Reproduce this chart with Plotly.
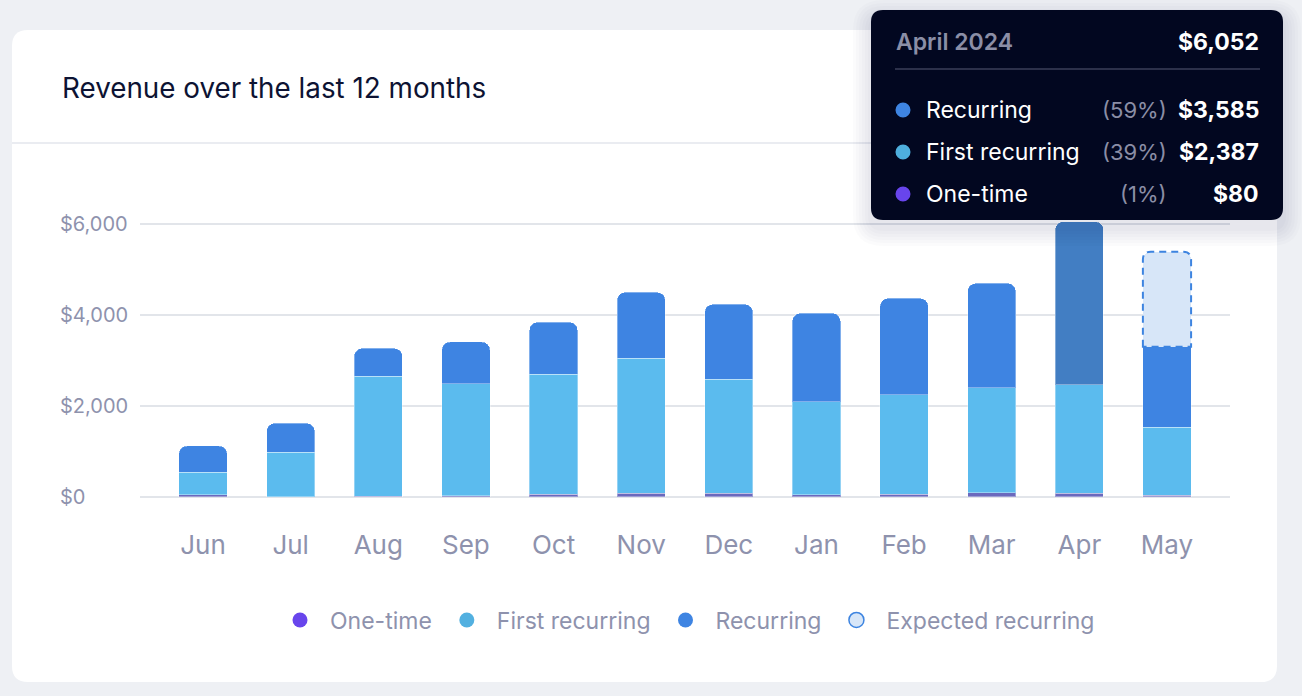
import plotly.graph_objects as go

# ---------------- data ----------------
months = ["Jun", "Jul", "Aug", "Sep", "Oct", "Nov", "Dec", "Jan", "Feb", "Mar", "Apr", "May"]
one_time = [45, 0, 20, 30, 60, 80, 80, 50, 60, 95, 80, 40]
first_recurring = [498, 989, 2639, 2460, 2637, 2975, 2513, 2045, 2182, 2301, 2387, 1498]
recurring = [578, 631, 609, 917, 1143, 1444, 1642, 1942, 2125, 2300, 3585, 1765]
expected_recurring = [None, None, None, None, None, None, None, None, None, None, None, 2088]
y_ticks = [0, 2000, 4000, 6000]
y_tick_labels = ["$0", "$2,000", "$4,000", "$6,000"]
hover_label = "April 2024"
hover_index = 10
title_text = "Revenue over the last 12 months"

# ---------------- style ----------------
W, H = 1302, 696
FONT = "Inter"
C_REC = "#3e84e2"
C_REC_HOVER = "#427ec3"
C_FIRST = "#5bbbee"
C_ONE = "#6b69bd"
C_EXP_FILL = "#d7e6f8"
C_EXP_LINE = "#3d84e0"
C_AXIS_TXT = "#8e92ad"
C_GRID = "#e2e5ea"
BAR_W = 0.55
RADIUS = 8

PLOT_L, PLOT_R = 140, 1230
ZERO_PX, PX_PER_1000 = 497, 45.5
Y_MIN, Y_MAX = -300, 6600
X_RANGE = [-0.719, 11.719]


def fx(p):
    return p / W


def fy(p):
    return 1 - p / H


def rounded_rect(l, t, r, b, rad):
    rx, ry = rad / W, rad / H
    return (f"M {fx(l)+rx},{fy(t)} L {fx(r)-rx},{fy(t)} Q {fx(r)},{fy(t)} {fx(r)},{fy(t)-ry} "
            f"L {fx(r)},{fy(b)+ry} Q {fx(r)},{fy(b)} {fx(r)-rx},{fy(b)} "
            f"L {fx(l)+rx},{fy(b)} Q {fx(l)},{fy(b)} {fx(l)},{fy(b)+ry} "
            f"L {fx(l)},{fy(t)-ry} Q {fx(l)},{fy(t)} {fx(l)+rx},{fy(t)} Z")


y_top_px = ZERO_PX - Y_MAX / 1000 * PX_PER_1000
y_bot_px = ZERO_PX - Y_MIN / 1000 * PX_PER_1000
x_idx = list(range(len(months)))

fig = go.Figure()

fig.add_trace(go.Bar(x=x_idx, y=one_time, name="One-time", marker_color=C_ONE,
                     marker_line=dict(color="rgba(255,255,255,0.35)", width=1),
                     width=BAR_W, showlegend=False))
fig.add_trace(go.Bar(x=x_idx, y=first_recurring, name="First recurring", marker_color=C_FIRST,
                     marker_line=dict(color="rgba(255,255,255,0.35)", width=1),
                     width=BAR_W, showlegend=False))
rec_colors = [C_REC_HOVER if i == hover_index else C_REC for i in x_idx]
fig.add_trace(go.Bar(x=x_idx, y=recurring, name="Recurring", marker_color=rec_colors,
                     marker_line=dict(color="rgba(255,255,255,0.35)", width=1),
                     width=BAR_W, showlegend=False))
fig.add_trace(go.Bar(x=x_idx, y=expected_recurring, name="Expected recurring",
                     marker_color=C_EXP_FILL, marker_line_width=0,
                     width=BAR_W, showlegend=False))

# legend entries (circle dots)
for name, col, line in [("One-time", "#6845ec", None), ("First recurring", "#52b0e0", None),
                        ("Recurring", C_REC, None), ("Expected recurring", C_EXP_FILL, C_EXP_LINE)]:
    mk = dict(size=15, color=col, symbol="circle")
    mk["line"] = dict(color=line, width=1.5) if line else dict(width=0)
    fig.add_trace(go.Scatter(x=[None], y=[None], mode="markers", name=name, marker=mk,
                             showlegend=True, hoverinfo="skip"))

shapes = []
# card
shapes.append(dict(type="path", xref="paper", yref="paper", layer="below",
                   path=rounded_rect(12, 30, 1277, 682, 16), fillcolor="white", line=dict(width=0)))
shapes.append(dict(type="line", xref="paper", yref="paper", layer="below",
                   x0=fx(12), x1=fx(1277), y0=fy(143), y1=fy(143), line=dict(color="#e3e6ec", width=1.5)))

# dashed outline of expected bar (from data)
ppx = (PLOT_R - PLOT_L) / (X_RANGE[1] - X_RANGE[0])
ppy = PX_PER_1000 / 1000
erx, ery = RADIUS / ppx, RADIUS / ppy
for i, e in enumerate(expected_recurring):
    if e is None:
        continue
    base = one_time[i] + first_recurring[i] + recurring[i]
    top = base + e
    x0, x1 = i - BAR_W / 2, i + BAR_W / 2
    shapes.append(dict(type="path", xref="x", yref="y", layer="above",
                       path=(f"M {x0},{base} L {x0},{top-ery} Q {x0},{top} {x0+erx},{top} "
                             f"L {x1-erx},{top} Q {x1},{top} {x1},{top-ery} L {x1},{base} Z"),
                       line=dict(color=C_EXP_LINE, width=2, dash="7px,5px")))

# tooltip shadow + box
tl, tt, tr, tb = 871, 10, 1283, 220
for k in range(1, 7):
    g = 3 * k
    shapes.append(dict(type="path", xref="paper", yref="paper", layer="above",
                       path=rounded_rect(tl - g, tt - g + 8, tr + g, tb + g + 8, 12 + g),
                       fillcolor="rgba(20,30,70,0.014)", line=dict(width=0)))
shapes.append(dict(type="path", xref="paper", yref="paper", layer="above",
                   path=rounded_rect(tl, tt, tr, tb, 12), fillcolor="#020720", line=dict(width=0)))
shapes.append(dict(type="line", xref="paper", yref="paper", layer="above",
                   x0=fx(895), x1=fx(1260), y0=fy(69), y1=fy(69), line=dict(color="#3b3f58", width=1.5)))

annotations = [dict(text=title_text, x=fx(60), y=fy(88), xref="paper", yref="paper",
                    xanchor="left", yanchor="middle", showarrow=False,
                    font=dict(family=FONT, size=27.8, color="#0d1333"))]

total = one_time[hover_index] + first_recurring[hover_index] + recurring[hover_index]
annotations.append(dict(text=hover_label, x=fx(894), y=fy(42), xref="paper", yref="paper",
                        xanchor="left", yanchor="middle", showarrow=False,
                        font=dict(family=FONT, size=23, color="#8b8ea6", weight=600)))
annotations.append(dict(text=f"${total:,}", x=fx(1261), y=fy(42), xref="paper", yref="paper",
                        xanchor="right", yanchor="middle", showarrow=False,
                        font=dict(family=FONT, size=23, color="white", weight=700)))
rows = [("Recurring", recurring[hover_index], C_REC),
        ("First recurring", first_recurring[hover_index], "#4eaedd"),
        ("One-time", one_time[hover_index], "#6845ec")]
for k, (lab, val, col) in enumerate(rows):
    yy = 110 + 42 * k
    shapes.append(dict(type="circle", xref="paper", yref="paper", layer="above",
                       x0=fx(903 - 7.5), x1=fx(903 + 7.5), y0=fy(yy - 7.5), y1=fy(yy + 7.5),
                       fillcolor=col, line=dict(width=0)))
    annotations.append(dict(text=lab, x=fx(924), y=fy(yy), xref="paper", yref="paper",
                            xanchor="left", yanchor="middle", showarrow=False,
                            font=dict(family=FONT, size=23, color="white")))
    annotations.append(dict(text=f"({round(100 * val / total)}%)", x=fx(1169), y=fy(yy), xref="paper",
                            yref="paper", xanchor="right", yanchor="middle", showarrow=False,
                            font=dict(family=FONT, size=22, color="#8b8ea6")))
    annotations.append(dict(text=f"${val:,}", x=fx(1261), y=fy(yy), xref="paper", yref="paper",
                            xanchor="right", yanchor="middle", showarrow=False,
                            font=dict(family=FONT, size=23, color="white", weight=700)))

fig.update_layout(
    width=W, height=H, margin=dict(l=0, r=0, t=0, b=0),
    paper_bgcolor="#eef0f4", plot_bgcolor="rgba(0,0,0,0)",
    barmode="stack", barcornerradius=RADIUS,
    font=dict(family=FONT),
    xaxis=dict(domain=[fx(PLOT_L), fx(PLOT_R)], range=X_RANGE, tickvals=x_idx, ticktext=months,
               showgrid=False, zeroline=False, showline=False, ticks="",
               tickfont=dict(family=FONT, size=26, color=C_AXIS_TXT), ticklabelstandoff=16,
               fixedrange=True),
    yaxis=dict(domain=[fy(y_bot_px), fy(y_top_px)], range=[Y_MIN, Y_MAX], tickvals=y_ticks,
               ticktext=y_tick_labels, anchor="free", position=fx(56), ticklabelposition="inside",
               showgrid=True, gridcolor=C_GRID, gridwidth=1.5, zeroline=False,
               showline=False, ticks="",
               tickfont=dict(family=FONT, size=20, color=C_AXIS_TXT), fixedrange=True),
    legend=dict(orientation="h", x=fx(685), xanchor="center", y=fy(620), yanchor="middle",
                font=dict(family=FONT, size=23, color=C_AXIS_TXT), bgcolor="rgba(0,0,0,0)",
                traceorder="normal", itemwidth=50, itemclick=False, itemdoubleclick=False),
    shapes=shapes, annotations=annotations, showlegend=True,
)

fig.write_html("out.html", config={"displayModeBar": False},
               post_script="document.body.style.margin='0';document.body.style.overflow='hidden';")
